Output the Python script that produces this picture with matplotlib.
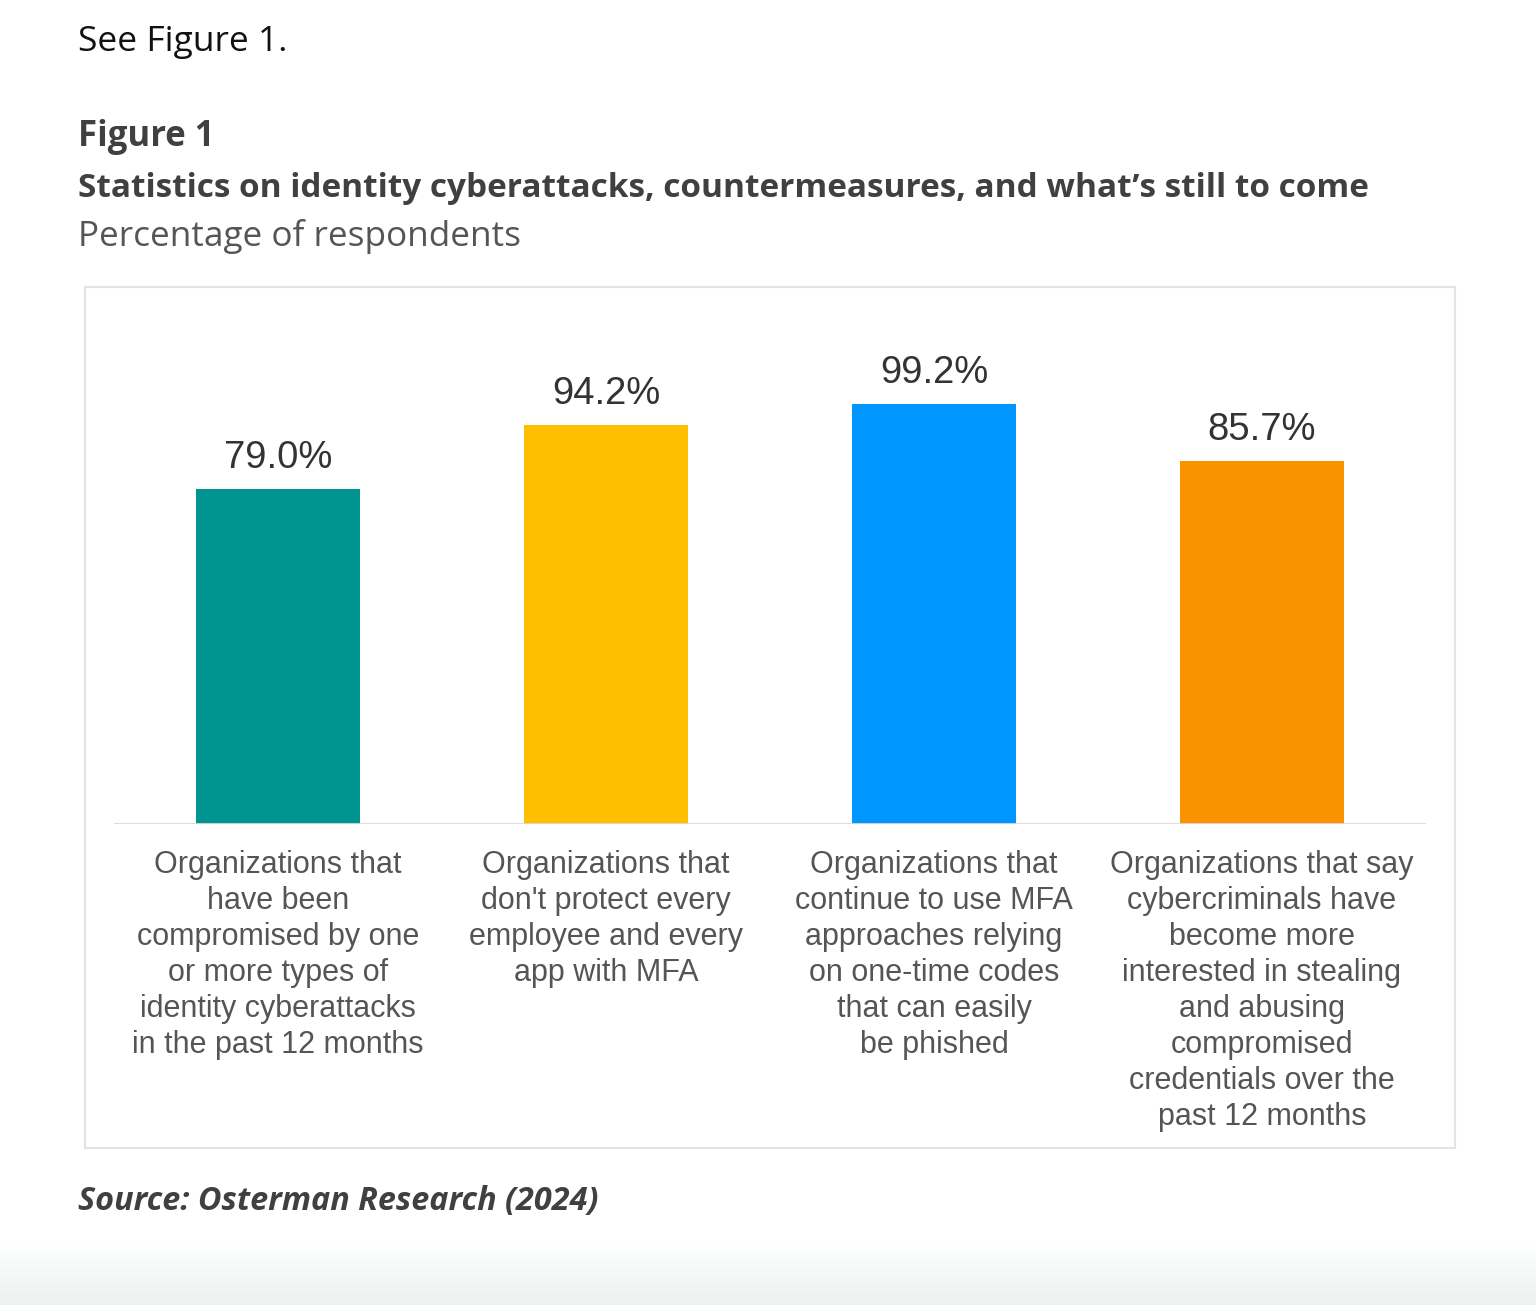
import numpy as np
import matplotlib
matplotlib.use("Agg")
import matplotlib.pyplot as plt
from matplotlib.patches import Rectangle

# data
categories = [
    "Organizations that\nhave been\ncompromised by one\nor more types of\nidentity cyberattacks\nin the past 12 months",
    "Organizations that\ndon't protect every\nemployee and every\napp with MFA",
    "Organizations that\ncontinue to use MFA\napproaches relying\non one-time codes\nthat can easily\nbe phished",
    "Organizations that say\ncybercriminals have\nbecome more\ninterested in stealing\nand abusing\ncompromised\ncredentials over the\npast 12 months",
]
values = [79.0, 94.2, 99.2, 85.7]
bar_colors = ["#009490", "#FDBF00", "#0096FF", "#FB9300"]

intro = "See Figure 1."
fig_label = "Figure 1"
title = "Statistics on identity cyberattacks, countermeasures, and what\u2019s still to come"
subtitle = "Percentage of respondents"
source = "Source: Osterman Research (2024)"

W, H, DPI = 1536, 1305, 100
HEAD_FONT = ["Open Sans", "DejaVu Sans"]
CHART_FONT = ["Liberation Sans", "DejaVu Sans"]


def fx(px):
    return px / W


def fy(py):
    return 1 - py / H


def pt(px):
    return px * 72 / DPI


fig = plt.figure(figsize=(W / DPI, H / DPI), dpi=DPI)
fig.patch.set_facecolor("white")

# faint grey fade at the very bottom of the screenshot
bg = fig.add_axes([0, 0, 1, 65 / H], zorder=-5)
grad = np.linspace(1, 0, 100).reshape(-1, 1)
bg.imshow(grad, aspect="auto", cmap=matplotlib.colors.LinearSegmentedColormap.from_list(
    "fade", ["#ffffff", "#eef1f1"]), extent=[0, 1, 0, 1], origin="lower")
bg.axis("off")

# headings
fig.text(fx(78), fy(51), intro, fontsize=25.5, family=HEAD_FONT, color="#111111", va="baseline")
fig.text(fx(78), fy(146), fig_label, fontsize=25, family=HEAD_FONT, weight="bold",
         color="#404040", va="baseline")
fig.text(fx(78), fy(197), title, fontsize=24, family=HEAD_FONT, weight="bold",
         color="#404040", va="baseline")
fig.text(fx(78), fy(246), subtitle, fontsize=25.3, family=HEAD_FONT, color="#555555",
         va="baseline")
fig.text(fx(78), fy(1210), source, fontsize=23.3, family=HEAD_FONT, weight="bold",
         style="italic", color="#404040", va="baseline")

# chart frame
fig.patches.append(Rectangle((fx(85), fy(1148)), (1455 - 85) / W, (1148 - 287) / H,
                             transform=fig.transFigure, fill=False, edgecolor="#e3e3e3",
                             linewidth=1.5, zorder=0))

ax = fig.add_axes([fx(114), fy(824), 1312 / W, (824 - 358) / H])
x = np.arange(len(values))
ax.bar(x, values, width=0.5, color=bar_colors, zorder=2)
ax.set_xlim(-0.5, len(values) - 0.5)
ax.set_ylim(0, 110)
ax.axhline(0, color="#d9d9d9", linewidth=2, zorder=3)
for s in ax.spines.values():
    s.set_visible(False)
ax.set_xticks([])
ax.set_yticks([])
ax.patch.set_alpha(0)

for i, v in enumerate(values):
    ax.annotate(f"{v:.1f}%", xy=(i, v), xytext=(0, pt(21)), textcoords="offset points",
                ha="center", va="baseline", fontsize=27.5, family=CHART_FONT,
                color="#333333")
    for j, line in enumerate(categories[i].split("\n")):
        ax.annotate(line, xy=(i, 0), xytext=(0, -pt(49 + 36 * j)),
                    textcoords="offset points", ha="center", va="baseline",
                    fontsize=22, family=CHART_FONT, color="#555555", annotation_clip=False)

fig.savefig("out.png", dpi=DPI)
